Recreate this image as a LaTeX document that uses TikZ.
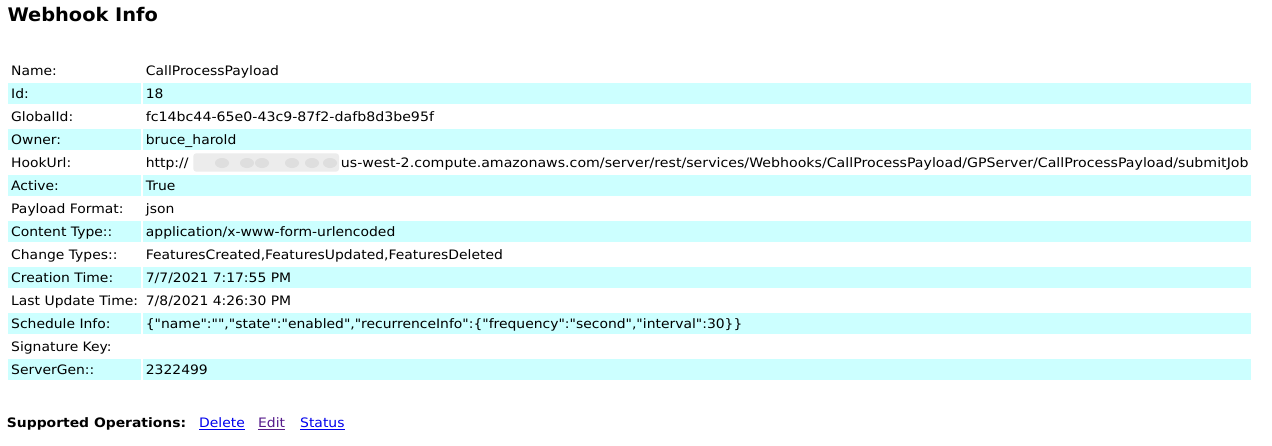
\documentclass[tikz,border=0pt]{standalone}
\usepackage{fontspec}
\newfontfamily\basefont{DejaVu Sans}[FakeStretch=1.07]
\newfontfamily\widefont{DejaVu Sans}[FakeStretch=1.09]
\newfontfamily\titlefont{DejaVu Sans}[FakeStretch=1.035]
\definecolor{rowbg}{RGB}{204,255,255}
\definecolor{linkblue}{RGB}{0,0,238}
\definecolor{linkvisited}{RGB}{85,26,139}
\definecolor{blurbg}{RGB}{236,236,236}
\definecolor{blurdot}{RGB}{222,222,222}
\begin{document}
\begin{tikzpicture}[x=1pt,y=-1pt,
  lbl/.style={anchor=base west, inner sep=0, font=\fontsize{13}{15}\selectfont\basefont},
  widelbl/.style={anchor=base west, inner sep=0, font=\fontsize{13}{15}\selectfont\widefont},
  boldlbl/.style={anchor=base west, inner sep=0, font=\fontsize{13}{15}\selectfont\basefont\bfseries},
  titlelbl/.style={anchor=base west, inner sep=0, font=\fontsize{18.72}{22}\selectfont\titlefont\bfseries},
  linklbl/.style={lbl, text=linkblue},
  visitedlbl/.style={lbl, text=linkvisited},
  rowshade/.style={fill=rowbg, draw=none}]
\useasboundingbox (0,0) rectangle (1272,445);
\fill[white] (0,0) rectangle (1272,445);
% row shading
\foreach \i in {1,3,5,7,9,11,13} {
  \fill[rowshade] (8,{60.3+23*\i}) rectangle (141.3,{81+23*\i});
  \fill[rowshade] (142.7,{60.3+23*\i}) rectangle (1251,{81+23*\i});
}
\node[titlelbl] (title) at (7.3,21) {Webhook Info};
% labels
\node[lbl] (k0) at (11,75.7) {Name:};
\node[lbl] (k1) at (11,98.7) {Id:};
\node[lbl] (k2) at (11,121.7) {GlobalId:};
\node[lbl] (k3) at (11,144.7) {Owner:};
\node[lbl] (k4) at (11,167.7) {HookUrl:};
\node[lbl] (k5) at (11,190.7) {Active:};
\node[lbl] (k6) at (11,213.7) {Payload Format:};
\node[lbl] (k7) at (11,236.7) {Content Type::};
\node[lbl] (k8) at (11,259.7) {Change Types::};
\node[lbl] (k9) at (11,282.7) {Creation Time:};
\node[lbl] (k10) at (11,305.7) {Last Update Time:};
\node[lbl] (k11) at (11,328.7) {Schedule Info:};
\node[lbl] (k12) at (11,351.7) {Signature Key:};
\node[lbl] (k13) at (11,374.7) {ServerGen::};
% values
\node[lbl] (v0) at (145.7,75.7) {CallProcessPayload};
\node[lbl] (v1) at (145.7,98.7) {18};
\node[widelbl] (v2) at (145.7,121.7) {fc14bc44-65e0-43c9-87f2-dafb8d3be95f};
\node[lbl] (v3) at (145.7,144.7) {bruce\_harold};
\node[lbl] (v4a) at (145.7,167.7) {http://};
\fill[blurbg, rounded corners=3pt] (193.3,153.3) rectangle (339,171.7);
\foreach \bx in {222,247,262,292,312,330} {
  \fill[blurdot] (\bx,163) ellipse (7 and 5);
}
\node[widelbl] (v4b) at (340.7,167.7) {us-west-2.compute.amazonaws.com/server/rest/services/Webhooks/CallProcessPayload/GPServer/CallProcessPayload/submitJob};
\node[lbl] (v5) at (145.7,190.7) {True};
\node[lbl] (v6) at (145.7,213.7) {json};
\node[lbl] (v7) at (145.7,236.7) {application/x-www-form-urlencoded};
\node[lbl] (v8) at (145.7,259.7) {FeaturesCreated,FeaturesUpdated,FeaturesDeleted};
\node[lbl] (v9) at (145.7,282.7) {7/7/2021 7:17:55 PM};
\node[lbl] (v10) at (145.7,305.7) {7/8/2021 4:26:30 PM};
\node[lbl] (v11) at (145.7,328.7) {\{"name":"","state":"enabled","recurrenceInfo":\{"frequency":"second","interval":30\}\}};
\node[lbl] (v13) at (145.7,374.7) {2322499};
% operations
\node[boldlbl] (ops) at (6.7,427.3) {Supported Operations:};
\node[linklbl] (del) at (199,427.3) {Delete};
\node[visitedlbl] (edit) at (258,427.3) {Edit};
\node[linklbl] (stat) at (300,427.3) {Status};
\draw[linkblue, line width=1pt] ([yshift=-2.2pt]del.base west) -- ([yshift=-2.2pt]del.base east);
\draw[linkvisited, line width=1pt] ([yshift=-2.2pt]edit.base west) -- ([yshift=-2.2pt]edit.base east);
\draw[linkblue, line width=1pt] ([yshift=-2.2pt]stat.base west) -- ([yshift=-2.2pt]stat.base east);
\end{tikzpicture}
\end{document}
